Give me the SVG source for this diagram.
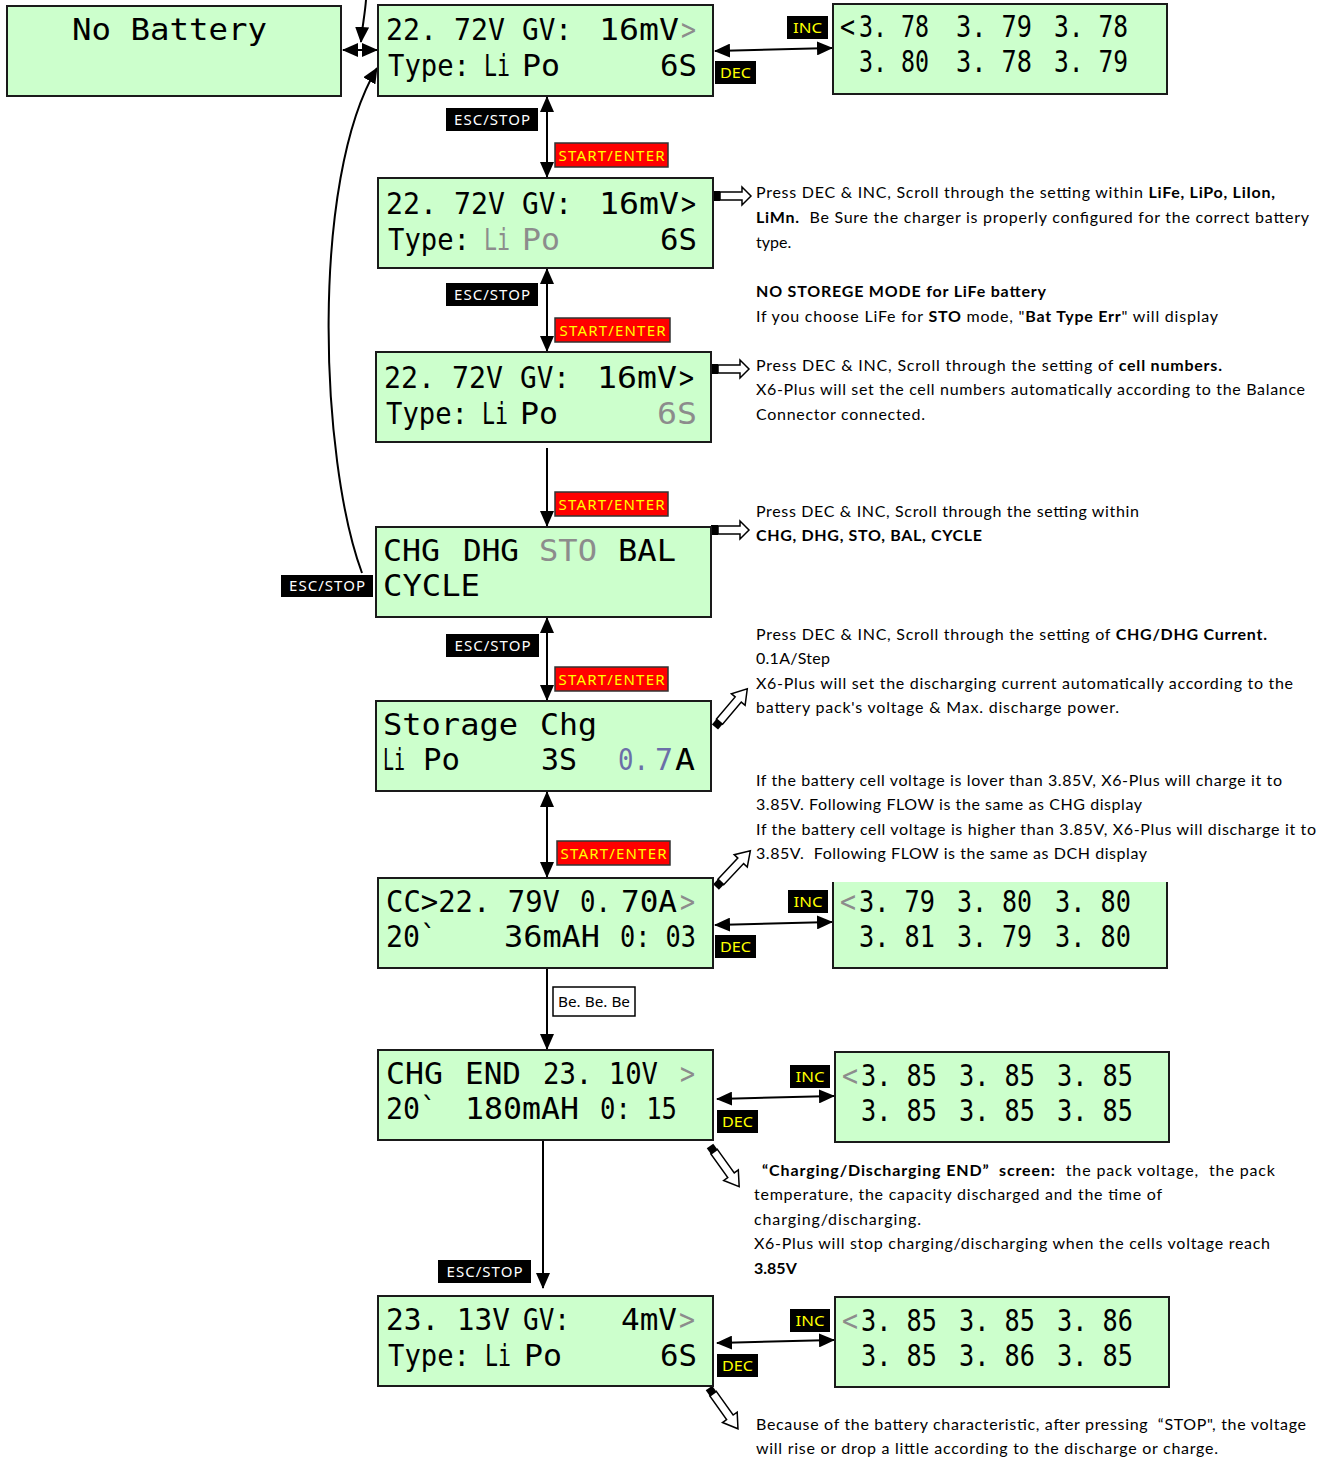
<svg xmlns="http://www.w3.org/2000/svg" width="1331" height="1459" viewBox="0 0 1331 1459">
<style>
.lcd{fill:#ccffcc;stroke:#1a1a1a;stroke-width:2}
.lcdf{fill:#ccffcc}
.t{font-family:"DejaVu Sans Mono","Liberation Mono",monospace;font-size:29.5px;fill:#000}
.g{fill:#8c8c8c}
.bl{fill:#6b6fa8}
.n{font-family:Lato,"Noto Sans","Liberation Sans",sans-serif;font-size:16px;fill:#000}
.bd{font-weight:bold}
.k{fill:#000}
.r{fill:#ff0000;stroke:#333;stroke-width:1.5}
.lt{font-family:"Noto Sans","Liberation Sans",sans-serif;font-size:15px;text-anchor:middle}
.wt{fill:#fff}
.yt{fill:#ffff00}
.c{fill:none;stroke:#000;stroke-width:2}
.ho{fill:#fff;stroke:#000;stroke-width:1.5}
</style>
<defs>
<marker id="ah" viewBox="0 0 16 14" refX="15" refY="7" markerWidth="16" markerHeight="14" markerUnits="userSpaceOnUse" orient="auto-start-reverse"><path d="M0,0 L16,7 L0,14 z" fill="#000"/></marker>
<g id="pencil"><rect x="0" y="-4" width="7" height="8" fill="#000"/><path d="M7,-4 L36,-4 L36,-9 L50,0 L36,9 L36,4 L7,4 z" class="ho"/></g>
<g id="blk"><rect x="0" y="-5" width="7" height="10" fill="#000"/><path d="M7,-4 L29,-4 L29,-9 L38,0 L29,9 L29,4 L7,4 z" class="ho"/></g>
</defs>

<g id="connectors">
<path class="c" d="M366,0 C365,14 362,28 361,42" marker-end="url(#ah)"/>
<path class="c" d="M343,50 L377,50" marker-start="url(#ah)" marker-end="url(#ah)"/>
<path class="c" d="M362,573 C320,460 310,180 377,68" marker-end="url(#ah)"/>
<path class="c" d="M547,97 L547,177" marker-start="url(#ah)" marker-end="url(#ah)"/>
<path class="c" d="M547,269 L547,351" marker-start="url(#ah)" marker-end="url(#ah)"/>
<path class="c" d="M547,448 L547,526" marker-end="url(#ah)"/>
<path class="c" d="M547,618 L547,700" marker-start="url(#ah)" marker-end="url(#ah)"/>
<path class="c" d="M547,792 L547,877" marker-start="url(#ah)" marker-end="url(#ah)"/>
<path class="c" d="M547,969 L547,1049" marker-end="url(#ah)"/>
<path class="c" d="M543,1141 L543,1288" marker-end="url(#ah)"/>
<path class="c" d="M715,51 L832,48" marker-start="url(#ah)" marker-end="url(#ah)"/>
<path class="c" d="M715,925 L832,922" marker-start="url(#ah)" marker-end="url(#ah)"/>
<path class="c" d="M717,1099 L834,1096" marker-start="url(#ah)" marker-end="url(#ah)"/>
<path class="c" d="M717,1343 L834,1340" marker-start="url(#ah)" marker-end="url(#ah)"/>
<use href="#blk" transform="translate(713,196)"/>
<use href="#blk" transform="translate(711,369)"/>
<use href="#blk" transform="translate(711,530)"/>
<use href="#pencil" transform="translate(715,727) rotate(-49.8)"/>
<use href="#pencil" transform="translate(716,887) rotate(-46.6)"/>
<use href="#pencil" transform="translate(710,1146) rotate(54.3)"/>
<use href="#pencil" transform="translate(709,1388) rotate(54.6)"/>
</g>

<g id="nobattery">
<rect class="lcd" x="7" y="6" width="334" height="90"/>
<text class="t" x="72" y="40" textLength="195" lengthAdjust="spacingAndGlyphs">No Battery</text>
</g>

<g id="main1">
<rect class="lcd" x="378" y="5" width="335" height="91"/>
<text class="t" x="386" y="40" textLength="119" lengthAdjust="spacingAndGlyphs">22. 72V</text>
<text class="t" x="522" y="40" textLength="50" lengthAdjust="spacingAndGlyphs">GV:</text>
<text class="t" x="599" y="40" textLength="80" lengthAdjust="spacingAndGlyphs">16mV</text>
<text class="t g" x="681" y="40" textLength="15" lengthAdjust="spacingAndGlyphs">&gt;</text>
<text class="t" x="388" y="76" textLength="82" lengthAdjust="spacingAndGlyphs">Type:</text>
<text class="t" x="484" y="76" textLength="26" lengthAdjust="spacingAndGlyphs">Li</text>
<text class="t" x="522" y="76" textLength="38" lengthAdjust="spacingAndGlyphs">Po</text>
<text class="t" x="660" y="76" textLength="37" lengthAdjust="spacingAndGlyphs">6S</text>
</g>

<g id="cells1">
<rect class="lcd" x="833" y="4" width="334" height="90"/>
<text class="t" x="840" y="37" textLength="15" lengthAdjust="spacingAndGlyphs">&lt;</text>
<text class="t" x="859" y="37" textLength="70" lengthAdjust="spacingAndGlyphs">3. 78</text>
<text class="t" x="956" y="37" textLength="76" lengthAdjust="spacingAndGlyphs">3. 79</text>
<text class="t" x="1054" y="37" textLength="74" lengthAdjust="spacingAndGlyphs">3. 78</text>
<text class="t" x="859" y="72" textLength="70" lengthAdjust="spacingAndGlyphs">3. 80</text>
<text class="t" x="956" y="72" textLength="76" lengthAdjust="spacingAndGlyphs">3. 78</text>
<text class="t" x="1054" y="72" textLength="74" lengthAdjust="spacingAndGlyphs">3. 79</text>
</g>

<g id="type">
<rect class="lcd" x="378" y="178" width="335" height="90"/>
<text class="t" x="386" y="214" textLength="119" lengthAdjust="spacingAndGlyphs">22. 72V</text>
<text class="t" x="522" y="214" textLength="50" lengthAdjust="spacingAndGlyphs">GV:</text>
<text class="t" x="599" y="214" textLength="80" lengthAdjust="spacingAndGlyphs">16mV</text>
<text class="t" x="681" y="214" textLength="15" lengthAdjust="spacingAndGlyphs">&gt;</text>
<text class="t" x="388" y="250" textLength="82" lengthAdjust="spacingAndGlyphs">Type:</text>
<text class="t g" x="484" y="250" textLength="26" lengthAdjust="spacingAndGlyphs">Li</text>
<text class="t g" x="522" y="250" textLength="38" lengthAdjust="spacingAndGlyphs">Po</text>
<text class="t" x="660" y="250" textLength="37" lengthAdjust="spacingAndGlyphs">6S</text>
</g>

<g id="cellcount">
<rect class="lcd" x="376" y="352" width="335" height="90"/>
<text class="t" x="384" y="388" textLength="119" lengthAdjust="spacingAndGlyphs">22. 72V</text>
<text class="t" x="520" y="388" textLength="50" lengthAdjust="spacingAndGlyphs">GV:</text>
<text class="t" x="597" y="388" textLength="80" lengthAdjust="spacingAndGlyphs">16mV</text>
<text class="t" x="679" y="388" textLength="15" lengthAdjust="spacingAndGlyphs">&gt;</text>
<text class="t" x="386" y="424" textLength="82" lengthAdjust="spacingAndGlyphs">Type:</text>
<text class="t" x="482" y="424" textLength="26" lengthAdjust="spacingAndGlyphs">Li</text>
<text class="t" x="520" y="424" textLength="38" lengthAdjust="spacingAndGlyphs">Po</text>
<text class="t g" x="657" y="424" textLength="40" lengthAdjust="spacingAndGlyphs">6S</text>
</g>

<g id="mode">
<rect class="lcd" x="376" y="527" width="335" height="90"/>
<text class="t" x="383" y="561" textLength="57" lengthAdjust="spacingAndGlyphs">CHG</text>
<text class="t" x="463" y="561" textLength="56" lengthAdjust="spacingAndGlyphs">DHG</text>
<text class="t g" x="539" y="561" textLength="58" lengthAdjust="spacingAndGlyphs">STO</text>
<text class="t" x="618" y="561" textLength="58" lengthAdjust="spacingAndGlyphs">BAL</text>
<text class="t" x="383" y="596" textLength="97" lengthAdjust="spacingAndGlyphs">CYCLE</text>
</g>

<g id="storage">
<rect class="lcd" x="376" y="701" width="335" height="90"/>
<text class="t" x="383" y="735" textLength="135" lengthAdjust="spacingAndGlyphs">Storage</text>
<text class="t" x="540" y="735" textLength="57" lengthAdjust="spacingAndGlyphs">Chg</text>
<text class="t" x="383" y="770" textLength="22" lengthAdjust="spacingAndGlyphs">Li</text>
<text class="t" x="423" y="770" textLength="37" lengthAdjust="spacingAndGlyphs">Po</text>
<text class="t" x="541" y="770" textLength="36" lengthAdjust="spacingAndGlyphs">3S</text>
<text class="t bl" x="618" y="770" textLength="31" lengthAdjust="spacingAndGlyphs">0.</text>
<text class="t bl" x="655" y="770" textLength="18" lengthAdjust="spacingAndGlyphs">7</text>
<text class="t" x="675" y="770" textLength="20" lengthAdjust="spacingAndGlyphs">A</text>
</g>

<g id="charging">
<rect class="lcd" x="378" y="878" width="335" height="90"/>
<text class="t" x="386" y="912" textLength="174" lengthAdjust="spacingAndGlyphs">CC&gt;22. 79V</text>
<text class="t" x="580" y="912" textLength="31" lengthAdjust="spacingAndGlyphs">0.</text>
<text class="t" x="621" y="912" textLength="56" lengthAdjust="spacingAndGlyphs">70A</text>
<text class="t g" x="680" y="912" textLength="15" lengthAdjust="spacingAndGlyphs">&gt;</text>
<text class="t" x="386" y="947" textLength="51" lengthAdjust="spacingAndGlyphs">20`</text>
<text class="t" x="504" y="947" textLength="96" lengthAdjust="spacingAndGlyphs">36mAH</text>
<text class="t" x="620" y="947" textLength="76" lengthAdjust="spacingAndGlyphs">0: 03</text>
</g>

<g id="cells2">
<rect class="lcdf" x="833" y="882" width="334" height="86"/>
<path d="M833,882 L833,968 L1167,968 L1167,882" fill="none" stroke="#1a1a1a" stroke-width="2"/>
<text class="t g" x="840" y="912" textLength="16" lengthAdjust="spacingAndGlyphs">&lt;</text>
<text class="t" x="859" y="912" textLength="76" lengthAdjust="spacingAndGlyphs">3. 79</text>
<text class="t" x="957" y="912" textLength="75" lengthAdjust="spacingAndGlyphs">3. 80</text>
<text class="t" x="1055" y="912" textLength="76" lengthAdjust="spacingAndGlyphs">3. 80</text>
<text class="t" x="859" y="947" textLength="76" lengthAdjust="spacingAndGlyphs">3. 81</text>
<text class="t" x="957" y="947" textLength="75" lengthAdjust="spacingAndGlyphs">3. 79</text>
<text class="t" x="1055" y="947" textLength="76" lengthAdjust="spacingAndGlyphs">3. 80</text>
</g>

<g id="end">
<rect class="lcd" x="378" y="1050" width="335" height="90"/>
<text class="t" x="386" y="1084" textLength="57" lengthAdjust="spacingAndGlyphs">CHG</text>
<text class="t" x="465" y="1084" textLength="56" lengthAdjust="spacingAndGlyphs">END</text>
<text class="t" x="543" y="1084" textLength="115" lengthAdjust="spacingAndGlyphs">23. 10V</text>
<text class="t g" x="680" y="1084" textLength="15" lengthAdjust="spacingAndGlyphs">&gt;</text>
<text class="t" x="386" y="1119" textLength="51" lengthAdjust="spacingAndGlyphs">20`</text>
<text class="t" x="465" y="1119" textLength="114" lengthAdjust="spacingAndGlyphs">180mAH</text>
<text class="t" x="600" y="1119" textLength="77" lengthAdjust="spacingAndGlyphs">0: 15</text>
</g>

<g id="cells3">
<rect class="lcd" x="835" y="1052" width="334" height="90"/>
<text class="t g" x="842" y="1086" textLength="16" lengthAdjust="spacingAndGlyphs">&lt;</text>
<text class="t" x="861" y="1086" textLength="76" lengthAdjust="spacingAndGlyphs">3. 85</text>
<text class="t" x="959" y="1086" textLength="76" lengthAdjust="spacingAndGlyphs">3. 85</text>
<text class="t" x="1057" y="1086" textLength="76" lengthAdjust="spacingAndGlyphs">3. 85</text>
<text class="t" x="861" y="1121" textLength="76" lengthAdjust="spacingAndGlyphs">3. 85</text>
<text class="t" x="959" y="1121" textLength="76" lengthAdjust="spacingAndGlyphs">3. 85</text>
<text class="t" x="1057" y="1121" textLength="76" lengthAdjust="spacingAndGlyphs">3. 85</text>
</g>

<g id="final">
<rect class="lcd" x="378" y="1296" width="335" height="90"/>
<text class="t" x="386" y="1330" textLength="124" lengthAdjust="spacingAndGlyphs">23. 13V</text>
<text class="t" x="523" y="1330" textLength="47" lengthAdjust="spacingAndGlyphs">GV:</text>
<text class="t" x="621" y="1330" textLength="56" lengthAdjust="spacingAndGlyphs">4mV</text>
<text class="t g" x="679" y="1330" textLength="16" lengthAdjust="spacingAndGlyphs">&gt;</text>
<text class="t" x="388" y="1366" textLength="82" lengthAdjust="spacingAndGlyphs">Type:</text>
<text class="t" x="485" y="1366" textLength="26" lengthAdjust="spacingAndGlyphs">Li</text>
<text class="t" x="524" y="1366" textLength="38" lengthAdjust="spacingAndGlyphs">Po</text>
<text class="t" x="660" y="1366" textLength="37" lengthAdjust="spacingAndGlyphs">6S</text>
</g>

<g id="cells4">
<rect class="lcd" x="835" y="1297" width="334" height="90"/>
<text class="t g" x="842" y="1331" textLength="16" lengthAdjust="spacingAndGlyphs">&lt;</text>
<text class="t" x="861" y="1331" textLength="76" lengthAdjust="spacingAndGlyphs">3. 85</text>
<text class="t" x="959" y="1331" textLength="76" lengthAdjust="spacingAndGlyphs">3. 85</text>
<text class="t" x="1057" y="1331" textLength="76" lengthAdjust="spacingAndGlyphs">3. 86</text>
<text class="t" x="861" y="1366" textLength="76" lengthAdjust="spacingAndGlyphs">3. 85</text>
<text class="t" x="959" y="1366" textLength="76" lengthAdjust="spacingAndGlyphs">3. 86</text>
<text class="t" x="1057" y="1366" textLength="76" lengthAdjust="spacingAndGlyphs">3. 85</text>
</g>

<g id="labels">
<rect class="k" x="446" y="108" width="92" height="23"/><text class="lt wt" x="492" y="125" textLength="76">ESC/STOP</text>
<rect class="r" x="555" y="143" width="113" height="24"/><text class="lt yt" x="611.5" y="161" textLength="106">START/ENTER</text>
<rect class="k" x="446" y="283" width="92" height="23"/><text class="lt wt" x="492" y="300" textLength="76">ESC/STOP</text>
<rect class="r" x="555" y="318" width="115" height="24"/><text class="lt yt" x="612.5" y="336" textLength="106">START/ENTER</text>
<rect class="r" x="555" y="492" width="113" height="24"/><text class="lt yt" x="611.5" y="510" textLength="106">START/ENTER</text>
<rect class="k" x="281" y="575" width="92" height="22"/><text class="lt wt" x="327" y="591" textLength="76">ESC/STOP</text>
<rect class="k" x="446" y="634" width="93" height="23"/><text class="lt wt" x="492.5" y="651" textLength="76">ESC/STOP</text>
<rect class="r" x="555" y="667" width="113" height="24"/><text class="lt yt" x="611.5" y="685" textLength="106">START/ENTER</text>
<rect class="r" x="557" y="841" width="113" height="24"/><text class="lt yt" x="613.5" y="859" textLength="106">START/ENTER</text>
<rect x="553" y="987" width="82" height="29" fill="#fff" stroke="#000" stroke-width="1.5"/><text class="lt" x="594" y="1007" textLength="72" lengthAdjust="spacingAndGlyphs">Be. Be. Be</text>
<rect class="k" x="438" y="1260" width="93" height="23"/><text class="lt wt" x="484.5" y="1277" textLength="76">ESC/STOP</text>
<rect class="k" x="787" y="16" width="41" height="23"/><text class="lt yt" x="807.5" y="33" textLength="29" lengthAdjust="spacingAndGlyphs">INC</text>
<rect class="k" x="715" y="61" width="41" height="23"/><text class="lt yt" x="735.5" y="78" textLength="31" lengthAdjust="spacingAndGlyphs">DEC</text>
<rect class="k" x="788" y="890" width="40" height="23"/><text class="lt yt" x="808" y="907" textLength="29" lengthAdjust="spacingAndGlyphs">INC</text>
<rect class="k" x="715" y="935" width="41" height="23"/><text class="lt yt" x="735.5" y="952" textLength="31" lengthAdjust="spacingAndGlyphs">DEC</text>
<rect class="k" x="790" y="1065" width="40" height="23"/><text class="lt yt" x="810" y="1082" textLength="29" lengthAdjust="spacingAndGlyphs">INC</text>
<rect class="k" x="717" y="1110" width="41" height="23"/><text class="lt yt" x="737.5" y="1127" textLength="31" lengthAdjust="spacingAndGlyphs">DEC</text>
<rect class="k" x="790" y="1309" width="40" height="23"/><text class="lt yt" x="810" y="1326" textLength="29" lengthAdjust="spacingAndGlyphs">INC</text>
<rect class="k" x="717" y="1354" width="41" height="23"/><text class="lt yt" x="737.5" y="1371" textLength="31" lengthAdjust="spacingAndGlyphs">DEC</text>
</g>

<g id="notes">
<text class="n" x="756" y="198" textLength="519">Press DEC &amp; INC, Scroll through the setting within <tspan class="bd">LiFe, LiPo, LiIon,</tspan></text>
<text class="n" x="756" y="223" textLength="553" xml:space="preserve"><tspan class="bd">LiMn.</tspan>  Be Sure the charger is properly configured for the correct battery</text>
<text class="n" x="756" y="248">type.</text>
<text class="n bd" x="756" y="297" textLength="290">NO STOREGE MODE for LiFe battery</text>
<text class="n" x="756" y="322" textLength="462">If you choose LiFe for <tspan class="bd">STO</tspan> mode, "<tspan class="bd">Bat Type Err</tspan>" will display</text>
<text class="n" x="756" y="371" textLength="466">Press DEC &amp; INC, Scroll through the setting of <tspan class="bd">cell numbers.</tspan></text>
<text class="n" x="756" y="395" textLength="549">X6-Plus will set the cell numbers automatically according to the Balance</text>
<text class="n" x="756" y="420" textLength="169">Connector connected.</text>
<text class="n" x="756" y="517" textLength="383">Press DEC &amp; INC, Scroll through the setting within</text>
<text class="n bd" x="756" y="541" textLength="226">CHG, DHG, STO, BAL, CYCLE</text>
<text class="n" x="756" y="640" textLength="511">Press DEC &amp; INC, Scroll through the setting of <tspan class="bd">CHG/DHG Current.</tspan></text>
<text class="n" x="756" y="664" textLength="74">0.1A/Step</text>
<text class="n" x="756" y="689" textLength="537">X6-Plus will set the discharging current automatically according to the</text>
<text class="n" x="756" y="713" textLength="363">battery pack's voltage &amp; Max. discharge power.</text>
<text class="n" x="756" y="786" textLength="526">If the battery cell voltage is lover than 3.85V, X6-Plus will charge it to</text>
<text class="n" x="756" y="810" textLength="386">3.85V. Following FLOW is the same as CHG display</text>
<text class="n" x="756" y="835" textLength="560">If the battery cell voltage is higher than 3.85V, X6-Plus will discharge it to</text>
<text class="n" x="756" y="859" textLength="391" xml:space="preserve">3.85V.  Following FLOW is the same as DCH display</text>
<text class="n" x="762" y="1176" textLength="513" xml:space="preserve"><tspan class="bd">“Charging/Discharging END”  screen:</tspan>  the pack voltage,  the pack</text>
<text class="n" x="754" y="1200" textLength="408">temperature, the capacity discharged and the time of</text>
<text class="n" x="754" y="1225" textLength="167">charging/discharging.</text>
<text class="n" x="754" y="1249" textLength="516">X6-Plus will stop charging/discharging when the cells voltage reach</text>
<text class="n bd" x="754" y="1274">3.85V</text>
<text class="n" x="756" y="1430" textLength="550" xml:space="preserve">Because of the battery characteristic, after pressing  “STOP", the voltage</text>
<text class="n" x="756" y="1454" textLength="462">will rise or drop a little according to the discharge or charge.</text>
</g>
</svg>
